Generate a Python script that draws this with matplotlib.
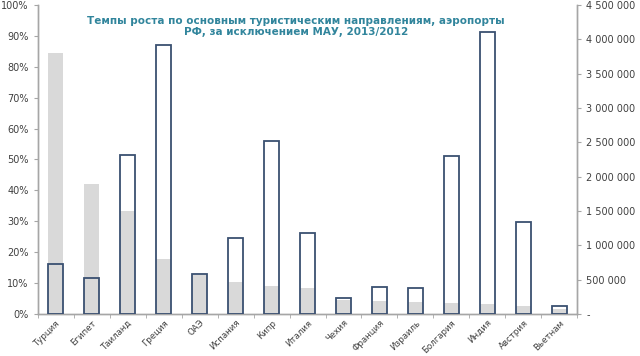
import numpy as np
import matplotlib
matplotlib.use("Agg")
import matplotlib.pyplot as plt
from matplotlib.ticker import FuncFormatter, FixedLocator

countries = ["Турция", "Египет", "Таиланд", "Греция", "ОАЭ", "Испания", "Кипр",
             "Италия", "Чехия", "Франция", "Израиль", "Болгария", "Индия",
             "Австрия", "Вьетнам"]
# passengers 2013 (right axis)
passengers = [3802000, 1890000, 1494000, 801000, 562000, 472000, 405000,
              378000, 207000, 189000, 175000, 166000, 144000, 117000, 77000]
# growth rate 2013/2012 (left axis)
growth = [0.163, 0.117, 0.516, 0.870, 0.128, 0.245, 0.560,
          0.263, 0.051, 0.088, 0.085, 0.511, 0.913, 0.298, 0.027]

title = "Темпы роста по основным туристическим направлениям, аэропорты\nРФ, за исключением МАУ, 2013/2012"

axis_col = "#A6A6A6"
text_col = "#404040"

fig = plt.figure(figsize=(6.4, 3.56), dpi=100)
ax = fig.add_axes([0.059, 0.118, 0.843, 0.868])
ax2 = ax.twinx()

x = np.arange(len(countries))
w = 0.42

ax2.bar(x, passengers, width=w, color="#D9D9D9", zorder=1)
ax.set_zorder(ax2.get_zorder() + 1)
ax.patch.set_visible(False)
ax.bar(x, growth, width=w, facecolor="none", edgecolor="#3A5071", linewidth=1.3, zorder=3)

ax.set_xlim(-0.5, len(countries) - 0.5)
ax.set_ylim(0, 1.0)
ax2.set_ylim(0, 4500000)

ax.set_yticks(np.arange(0, 1.01, 0.1))
ax.yaxis.set_major_formatter(FuncFormatter(lambda v, p: f"{v*100:.0f}%"))
ax2.set_yticks(np.arange(0, 4500001, 500000))
ax2.yaxis.set_major_formatter(FuncFormatter(
    lambda v, p: "-" if v == 0 else f"{int(v):,}".replace(",", " ")))

ax.set_xticks(x)
ax.set_xticklabels(countries, rotation=45, ha="right", rotation_mode="anchor",
                   fontsize=6.2, color=text_col)
ax.tick_params(axis="x", length=0, pad=3)
ax.xaxis.set_minor_locator(FixedLocator(np.arange(-0.5, len(countries), 1.0)))
ax.tick_params(axis="x", which="minor", length=3, color=axis_col)

ax.tick_params(axis="y", labelsize=7, labelcolor=text_col, length=3, color=axis_col)
ax2.tick_params(axis="y", labelsize=7, labelcolor=text_col, length=3, color=axis_col)

for a in (ax, ax2):
    a.spines["top"].set_visible(False)
    for s in ("left", "right", "bottom"):
        a.spines[s].set_color(axis_col)
        a.spines[s].set_linewidth(1.0)

fig.text(0.4625, 0.955, title, ha="center", va="top", fontsize=7.5,
         fontweight="bold", color="#31859C", linespacing=1.15)

fig.savefig("out.png", dpi=100)
